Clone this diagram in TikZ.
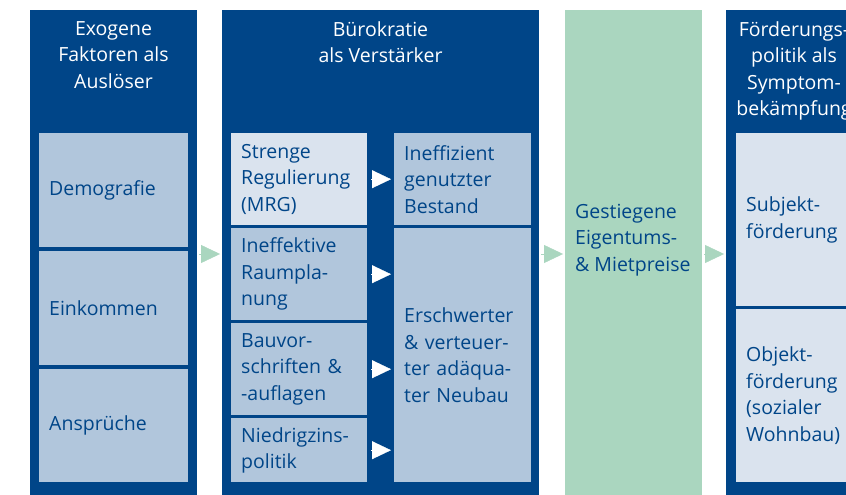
\documentclass[tikz,border=0pt]{standalone}
\usepackage{fontspec}
\setmainfont{Open Sans}
\usetikzlibrary{arrows.meta}
\definecolor{dunkelblau}{RGB}{0,69,136}
\definecolor{mittelblau}{RGB}{177,198,220}
\definecolor{hellblau}{RGB}{218,227,238}
\definecolor{mintgruen}{RGB}{170,214,191}
\begin{document}
\begin{tikzpicture}[x=1pt, y=-1pt,
    every node/.style={font=\fontsize{19.5}{26.5}\selectfont},
    saeule/.style={fill=dunkelblau, anchor=north west, inner sep=0pt},
    titel/.style={text=white, align=center, anchor=north, inner sep=0pt},
    kasten/.style={fill=mittelblau, text=dunkelblau, anchor=north west, align=left, inner xsep=10pt, inner ysep=0pt},
    hellkasten/.style={kasten, fill=hellblau},
    weisspfeil/.style={white, -{Triangle[width=18pt, length=19pt]}, shorten <=4pt, shorten >=3pt},
    gruenpfeil/.style={mintgruen, -{Triangle[width=18pt, length=19pt]}, shorten <=2pt, shorten >=2pt}]
    \useasboundingbox (0,0) rectangle (846,495);
    \clip (0,0) rectangle (846,495);
    \fill[white] (0,0) rectangle (846,495);
    % Saeulen
    \node[saeule, minimum width=167, minimum height=490] (exo) at (30,10) {};
    \node[saeule, minimum width=317, minimum height=490] (buero) at (222,10) {};
    \node[saeule, fill=mintgruen, minimum width=137, minimum height=490] (preis) at (565,10) {};
    \node[saeule, minimum width=136, minimum height=490] (foerd) at (726,10) {};
    \node[titel] (exotitel) at (113.5,21) {Exogene\\Faktoren als\\Auslöser};
    \node[titel] (buerotitel) at (380.5,21) {Bürokratie\\als Verstärker};
    \node[titel] (foerdtitel) at (794,21) {Förderungs-\\politik als\\Symptom-\\bekämpfung};
    % exogene Faktoren
    \foreach \y/\h/\txt [count=\k] in {133/114/Demografie, 251/114/Einkommen, 369/113/Ansprüche} {
        \node[kasten, text width=129pt, minimum width=149, minimum height=\h] (exo\k) at (39,\y) {\txt};
    }
    % Buerokratie
    \node[hellkasten, text width=116pt, minimum width=136, minimum height=92] (streng) at (231,133) {Strenge\\Regulierung\\(MRG)};
    \foreach \y/\h/\txt/\name in {228/92/{Ineffektive\\Raumpla-\\nung}/raum, 323/92/{Bauvor-\\schriften \&\\-auflagen}/bauv, 418/64/{Niedrigzins-\\politik}/zins} {
        \node[kasten, text width=116pt, minimum width=136, minimum height=\h] (\name) at (231,\y) {\txt};
    }
    \node[kasten, text width=117pt, minimum width=137, minimum height=92] (bestand) at (394,133) {Ineffizient\\genutzter\\Bestand};
    \node[kasten, text width=117pt, minimum width=137, minimum height=254] (neubau) at (394,228) {Erschwerter\\\& verteuer-\\ter adäqua-\\ter Neubau};
    % Preise
    \node[text=dunkelblau, align=left, anchor=west, inner sep=0pt] (preistext) at (575,240) {Gestiegene\\Eigentums-\\\& Mietpreise};
    % Foerderung
    \node[hellkasten, text width=97pt, minimum width=117, minimum height=173] (subjekt) at (736,133) {Subjekt-\\förderung};
    \node[hellkasten, text width=97pt, minimum width=117, minimum height=173] (objekt) at (736,309) {Objekt-\\förderung\\(sozialer\\Wohnbau)};
    % Pfeile
    \draw[weisspfeil] (streng.east) -- (bestand.west);
    \foreach \name in {raum, bauv, zins} {
        \draw[weisspfeil] (\name.east) -- (\name.east -| neubau.west);
    }
    \coordinate (pfeilhoehe) at (0,254);
    \draw[gruenpfeil] (exo.east |- pfeilhoehe) -- (buero.west |- pfeilhoehe);
    \draw[gruenpfeil] (buero.east |- pfeilhoehe) -- (preis.west |- pfeilhoehe);
    \draw[gruenpfeil] (preis.east |- pfeilhoehe) -- (foerd.west |- pfeilhoehe);
\end{tikzpicture}
\end{document}
